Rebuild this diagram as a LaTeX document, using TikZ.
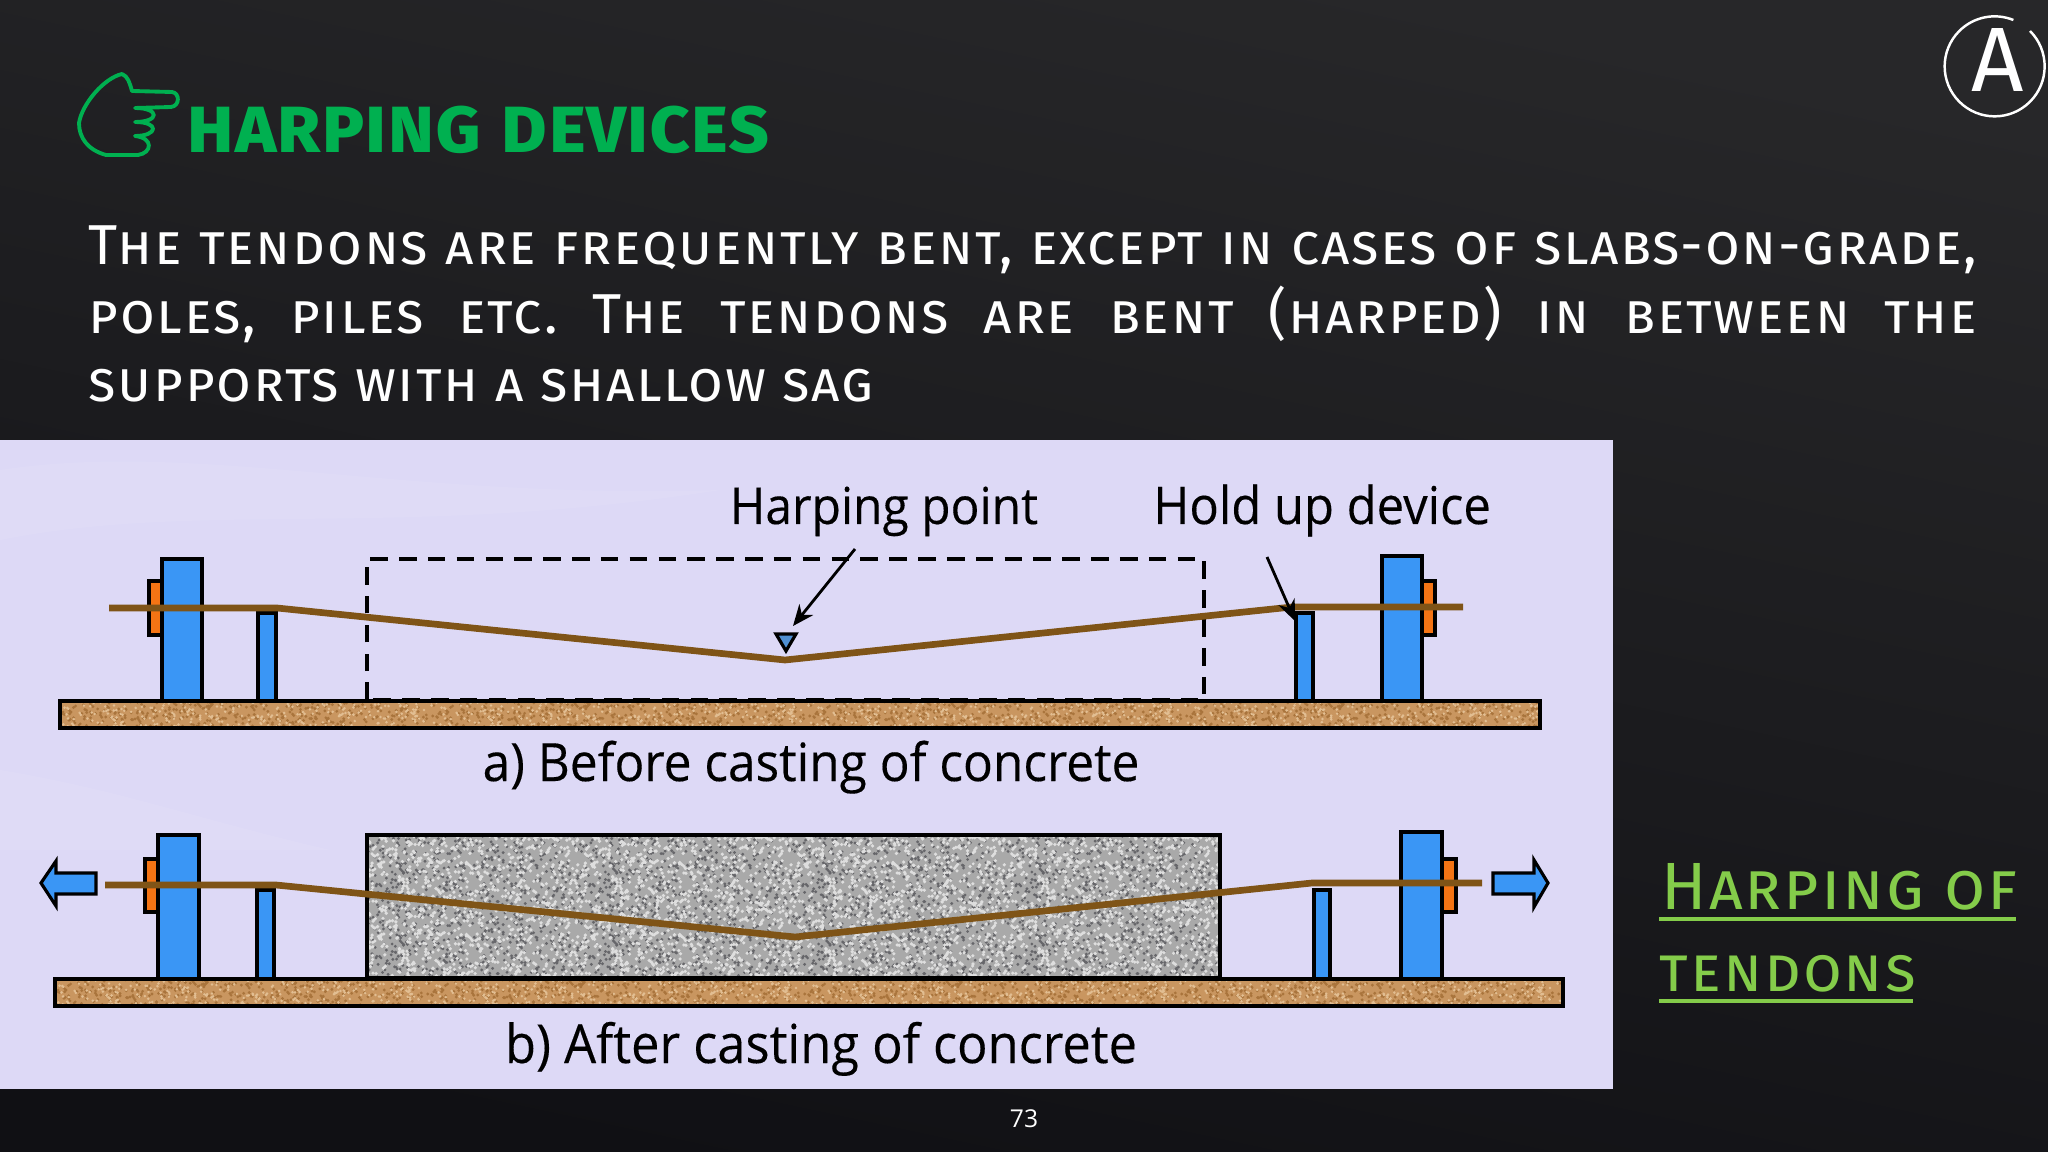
\documentclass[tikz,border=0pt]{standalone}
\usepackage{fontspec}
\setmainfont{Fira Sans}
\newfontfamily\chalkfont[Letters=SmallCaps,UprightFeatures={LetterSpace=3}]{Fira Sans}
\newfontfamily\labelfont[FakeStretch=0.94,FakeBold=0.25]{Open Sans}
\newfontfamily\pagefont{Open Sans}
\usepackage{tikz}
\usetikzlibrary{arrows.meta, calc, positioning, shapes}
\definecolor{boardtop}{HTML}{272729}
\definecolor{boardlow}{HTML}{101014}
\definecolor{paneltint}{HTML}{DDD9F6}
\definecolor{titlegreen}{HTML}{00B050}
\definecolor{notegreen}{HTML}{84CC4A}
\definecolor{blockblue}{HTML}{3A96F5}
\definecolor{plateorange}{HTML}{F47414}
\definecolor{tendonbrown}{HTML}{7F5417}
\definecolor{plankbrown}{HTML}{C99660}
\definecolor{plankdark}{HTML}{A9743C}
\definecolor{planklight}{HTML}{E2BE92}
\definecolor{concretegray}{HTML}{A9A9A9}
\definecolor{concretedark}{HTML}{66666A}
\definecolor{concretelight}{HTML}{DEDEDE}
\tikzset{
    block/.style={draw=black, fill=blockblue, line width=1pt},
    plate/.style={draw=black, fill=plateorange, line width=1pt},
    plank/.style={draw=black, line width=1pt},
    tendon/.style={draw=tendonbrown, line width=1.9pt, line join=round},
    pointer/.style={draw=black, line width=0.8pt, -{Stealth[length=6pt,width=5pt]}},
    pull/.style={draw=black, fill=blockblue, line width=0.9pt, line join=miter},
    caption/.style={anchor=base, font=\labelfont\fontsize{#1}{17}\selectfont, text=black, inner sep=0pt},
    caption/.default=14.5,
    note/.style={anchor=base west, inner sep=0pt, text=notegreen, font=\chalkfont\fontsize{#1}{22}\selectfont},
    note/.default=19,
    tile/.style={anchor=north west, inner sep=0pt, outer sep=0pt}
}
% grain tiles
\newsavebox{\concretetile}
\newsavebox{\planktile}
\pgfmathsetseed{7}
\sbox{\concretetile}{\begin{tikzpicture}[x=0.01cm, y=-0.01cm]
    \useasboundingbox (0,0) rectangle (213.25,72);
    \fill[concretedark] foreach \i in {1,...,420} { ({213*rnd},{72*rnd}) circle (1.6) };
    \fill[concretelight] foreach \i in {1,...,520} { ({213*rnd},{72*rnd}) circle (1.8) };
\end{tikzpicture}}
\sbox{\planktile}{\begin{tikzpicture}[x=0.01cm, y=-0.01cm]
    \useasboundingbox (0,0) rectangle (377,27);
    \fill[plankdark] foreach \i in {1,...,420} { ({377*rnd},{27*rnd}) circle (1.6) };
    \fill[planklight] foreach \i in {1,...,300} { ({377*rnd},{27*rnd}) circle (1.4) };
\end{tikzpicture}}
\begin{document}
\begin{tikzpicture}[x=0.01cm, y=-0.01cm]
    \useasboundingbox (0,0) rectangle (2048,1152);
    \shade[top color=boardtop, bottom color=boardlow, shading angle=-12] (0,0) rectangle (2048,1152);

    % heading
    \draw[titlegreen, line width=1.1pt, line join=round] (138,155) -- (106,155)
        .. controls (88,150) and (79,138) .. (79,123)
        .. controls (82,104) and (104,78) .. (122,74)
        .. controls (128,76) and (130,84) .. (132,91) -- (172,92)
        .. controls (180,93) and (180,106) .. (171,107) -- (135,108)
        .. controls (160,108) and (160,122) .. (135,122)
        .. controls (160,122) and (158,136) .. (135,136)
        .. controls (154,138) and (152,153) .. (138,155);
    \node[anchor=base west, inner sep=0pt, text=titlegreen, font=\chalkfont\bfseries\fontsize{22.7}{27}\selectfont] (title) at (186,153) {harping devices};
    \node[anchor=north west, inner sep=0pt, text width=18.87cm, align=justify, text=white, font=\chalkfont\fontsize{16}{19.5}\selectfont] (body) at (88,225)
        {\frenchspacing The tendons are frequently bent, except in cases of slabs-on-grade,\linebreak poles, piles etc. The tendons are bent (harped) in between the\linebreak supports with a shallow sag};

    % badge
    \draw[white, line width=0.7pt] (2030,31) arc (-45:292:50);
    \node[inner sep=0pt, text=white, font=\fontsize{26}{30}\selectfont] (badge) at (1998,60) {A};

    % panel
    \fill[paneltint] (0,440) rectangle (1613,1089);
    \fill[white, opacity=0.08] (0,470) .. controls (200,440) and (400,500) .. (720,490) .. controls (400,540) and (200,500) .. (0,540) -- cycle;
    \fill[white, opacity=0.08] (0,770) .. controls (120,790) and (200,820) .. (330,850) -- (0,850) -- cycle;

    % planks
    \fill[plankbrown] (60,701) rectangle (1540,728);
    \fill[plankbrown] (55,979) rectangle (1563,1006);
    \begin{scope}
        \clip (60,701) rectangle (1540,728);
        \foreach \i in {0,...,3} {
            \node[tile] (plankup\i) at ({60+\i*377},701) {\usebox{\planktile}};
        }
    \end{scope}
    \begin{scope}
        \clip (55,979) rectangle (1563,1006);
        \foreach \i in {0,...,3} {
            \node[tile] (planklow\i) at ({55+\i*377},979) {\usebox{\planktile}};
        }
    \end{scope}
    \draw[plank] (60,701) rectangle (1540,728);
    \draw[plank] (55,979) rectangle (1563,1006);

    % a) before casting
    \draw[block] (162,559) rectangle (202,701);
    \draw[block] (258,613) rectangle (276,701);
    \draw[block] (1296,613) rectangle (1313,701);
    \draw[block] (1382,556) rectangle (1422,701);
    \draw[plate] (149,581) rectangle (162,635);
    \draw[plate] (1422,581) rectangle (1435,635);
    \draw[black, line width=0.9pt, dash pattern=on 5pt off 3.2pt] (367,700) -- (367,559) -- (1204,559) -- (1204,700) -- cycle;
    \fill[blockblue!70!gray, draw=black, line width=0.9pt] (776,634) -- (796,634) -- (786,651) -- cycle;
    \draw[tendon] (109,608) -- (277,608) -- (785,660) -- (1292,607) -- (1463,607);
    \node[caption] (harppoint) at (884,524) {Harping point};
    \node[caption=14.8] (holddevice) at (1322,524) {Hold up device};
    \node[caption=15] (capbefore) at (811,781) {a) Before casting of concrete};
    \coordinate (harpstart) at (855,549);
    \coordinate (harptip) at (793,626);
    \coordinate (holdstart) at (1267,557);
    \coordinate (holdtip) at (1295,621);
    \draw[pointer] (harpstart) -- (harptip);
    \draw[pointer] (holdstart) -- (holdtip);

    % b) after casting
    \fill[concretegray] (367,835) rectangle (1220,978);
    \begin{scope}
        \clip (367,835) rectangle (1220,978);
        \foreach \i in {0,...,3} {
            \node[tile] (graintop\i) at ({367+\i*213.25},835) {\usebox{\concretetile}};
            \node[tile] (grainlow\i) at ({367+\i*213.25},907) {\usebox{\concretetile}};
        }
    \end{scope}
    \draw[plank] (367,835) rectangle (1220,978);
    \draw[block] (158,835) rectangle (199,979);
    \draw[block] (257,890) rectangle (274,979);
    \draw[block] (1314,890) rectangle (1330,979);
    \draw[block] (1401,832) rectangle (1442,979);
    \draw[plate] (145,859) rectangle (158,912);
    \draw[plate] (1442,859) rectangle (1456,912);
    \draw[tendon] (105,885) -- (276,885) -- (795,937) -- (1312,883) -- (1482,883);
    \draw[pull] (41,883) -- (56,861) -- (56,873) -- (96,873) -- (96,894) -- (56,894) -- (56,906) -- cycle;
    \draw[pull] (1548,883) -- (1534,860) -- (1534,873) -- (1493,873) -- (1493,894) -- (1534,894) -- (1534,907) -- cycle;
    \node[caption=15.3] (capafter) at (821,1063) {b) After casting of concrete};

    % side note
    \node[note] (notea) at (1661,909) {Harping of};
    \node[note=17.9] (noteb) at (1659,991) {tendons};
    \coordinate (lineastart) at (1659,919);
    \coordinate (lineaend) at (2016,919);
    \coordinate (linebstart) at (1659,1001);
    \coordinate (linebend) at (1913,1001);
    \draw[notegreen, line width=1.4pt] (lineastart) -- (lineaend);
    \draw[notegreen, line width=1.4pt] (linebstart) -- (linebend);

    % page number
    \node[inner sep=0pt, text=white, font=\pagefont\fontsize{7}{8}\selectfont] (pagenum) at (1024,1119) {73};
\end{tikzpicture}
\end{document}
